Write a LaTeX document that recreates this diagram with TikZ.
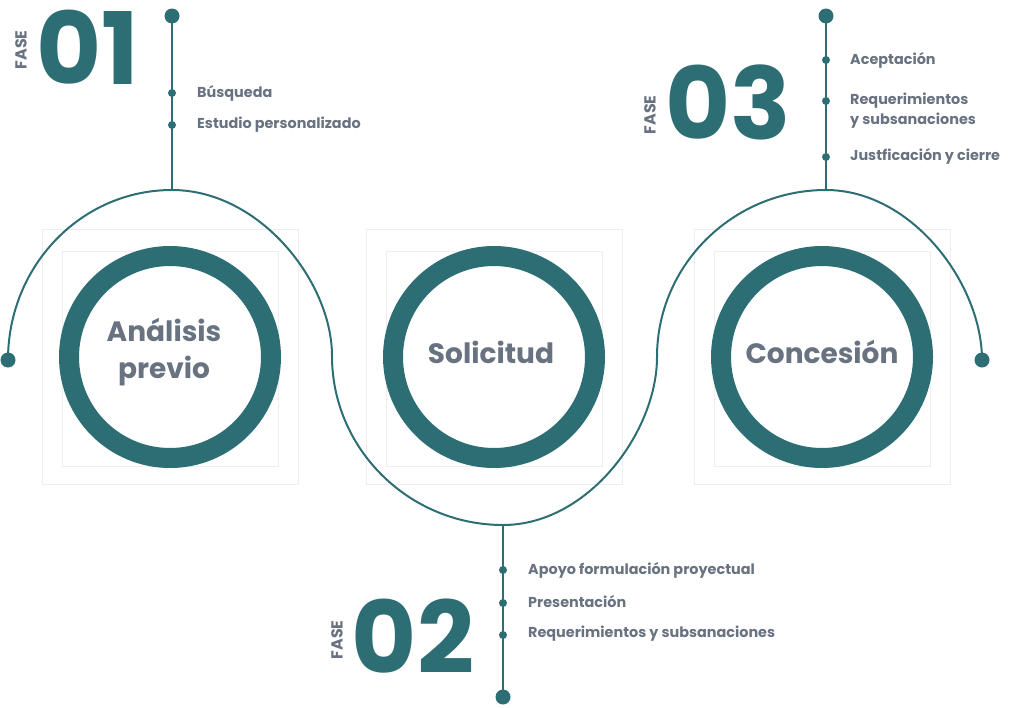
\documentclass[tikz,border=0pt]{standalone}
\usepackage{fontspec}
\setmainfont{Poppins}
\definecolor{faseTeal}{RGB}{45,110,116}
\definecolor{faseGray}{RGB}{104,114,128}
\definecolor{boxGray}{RGB}{238,238,238}

\begin{document}
\begin{tikzpicture}[x=1pt, y=-1pt,
    ring/.style={circle, draw=faseTeal, line width=20pt, minimum size=202pt, fill=white},
    ringtext/.style={text=faseGray, align=center, font=\fontsize{28}{37}\selectfont\bfseries},
    item/.style={anchor=west, text=faseGray, font=\fontsize{14.4}{20}\selectfont\bfseries, align=left, inner sep=0pt},
    bigdot/.style={circle, fill=faseTeal, inner sep=0pt, minimum size=15pt},
    smalldot/.style={circle, fill=faseTeal, inner sep=0pt, minimum size=8pt},
    num/.style={text=faseTeal, inner sep=0pt, font=\fontsize{100}{100}\selectfont\bfseries},
    fase/.style={rotate=90, text=faseGray, inner sep=0pt, font=\fontsize{16}{16}\selectfont\bfseries},
    frame/.style={draw=boxGray, line width=1pt},
    wave/.style={draw=faseTeal, line width=2pt}]
            \useasboundingbox (0,0) rectangle (1024,707);
            % frames behind the rings
            \foreach \cx in {170,494,822} {
                \draw[frame] (\cx-128,229) rectangle (\cx+128,484);
                \draw[frame] (\cx-108,251) rectangle (\cx+108,466);
            }
            % the wave
            \node[bigdot] (start) at (8,360) {};
            \node[bigdot] (end) at (982,360) {};
            \coordinate (top1) at (172,190);
            \coordinate (mid1) at (332,356);
            \coordinate (bot2) at (503,525);
            \coordinate (mid2) at (657,357);
            \coordinate (top3) at (826,190);
            \draw[wave] (start.center) .. controls (8,266) and (81,190) .. (top1)
                .. controls (260,190) and (332,282) .. (mid1)
                .. controls (332,449) and (409,525) .. (bot2)
                .. controls (588,525) and (657,432) .. (mid2)
                .. controls (657,265) and (733,190) .. (top3)
                .. controls (912,190) and (982,284) .. (end.center);
            % rings
            \node[ring] (analisis) at (170,357) {};
            \node[ring] (solicitud) at (494,357) {};
            \node[ring] (concesion) at (822,357) {};
            \node[ringtext] (analisistxt) at (164,352) {Análisis\\previo};
            \node[ringtext] (solicitudtxt) at (491,352) {Solicitud};
            \node[ringtext] (concesiontxt) at (822,352) {Concesión};
            % fase 01
            \node[fase] (fase1) at (21,50) {FASE};
            \node[num] (n1) at (88,47) {01};
            \node[bigdot] (top1dot) at (172,16) {};
            \draw[wave] (top1dot.center) -- (top1);
            \node[smalldot] (d11) at (172,93) {};
            \node[smalldot] (d12) at (172,125) {};
            \node[item] (busqueda) at (197,93) {Búsqueda};
            \node[item] (estudio) at (197,125) {Estudio personalizado};
            % fase 02
            \node[fase] (fase2) at (337,640) {FASE};
            \node[num] (n2) at (413,636) {02};
            \node[bigdot] (bot2dot) at (503,697) {};
            \draw[wave] (bot2) -- (bot2dot.center);
            \node[smalldot] (d21) at (503,570) {};
            \node[smalldot] (d22) at (503,603) {};
            \node[smalldot] (d23) at (503,635) {};
            \node[item] (apoyo) at (528,570) {Apoyo formulación proyectual};
            \node[item] (presentacion) at (528,602) {Presentación};
            \node[item] (reque2) at (528,634) {Requerimientos y subsanaciones};
            % fase 03
            \node[fase] (fase3) at (650,115) {FASE};
            \node[num] (n3) at (728,102) {03};
            \node[bigdot] (top3dot) at (826,16) {};
            \draw[wave] (top3dot.center) -- (top3);
            \node[smalldot] (d31) at (826,60) {};
            \node[smalldot] (d32) at (826,101) {};
            \node[smalldot] (d33) at (826,157) {};
            \node[item] (aceptacion) at (850,60) {Aceptación};
            \node[item, anchor=north west] (reque3) at (850,93) {Requerimientos\\y subsanaciones};
            \node[item] (justif) at (850,156) {Justficación y cierre};
        \end{tikzpicture}
\end{document}
